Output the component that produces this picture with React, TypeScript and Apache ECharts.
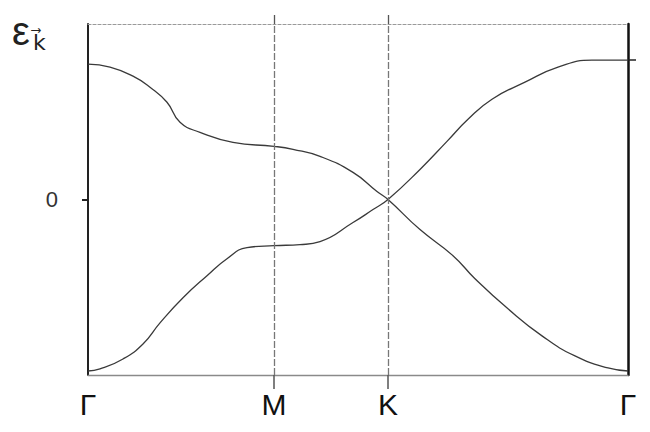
import React, { useEffect, useRef } from "react";
import * as echarts from "echarts";

// High-symmetry points along the k-path (distance units) and their labels
const kPoints = [0, 1.86, 3.0, 5.4];
const kLabels = ["Γ", "M", "K", "Γ"];
const kInner = [1.86, 3.0];

// Energy axis
const energyMin = -1.75;
const energyMax = 1.75;
const energyTicks = [0];
const energyTickLabels = ["0"];
const bandTopMark = [1.39];

// Stroke 1: from upper band at Γ, through M, down through K, to bottom at Γ
const strokeUpperLeft: [number, number][] = [
  [0, 1.35], [0.22, 1.32], [0.45, 1.23], [0.62, 1.12], [0.79, 0.97],
  [0.92, 0.77], [1.12, 0.67], [1.45, 0.57], [1.86, 0.53], [2.05, 0.5],
  [2.32, 0.43], [2.65, 0.27], [2.89, 0.08], [3.0, 0.0],
];
const strokeLowerRight: [number, number][] = [
  [3.32, -0.3], [3.65, -0.56], [3.87, -0.79], [4.2, -1.09], [4.54, -1.36],
  [4.87, -1.56], [5.2, -1.68], [5.4, -1.71],
];

// Stroke 2: from bottom at Γ, through M, up through K, to top at Γ
const strokeLowerLeft: [number, number][] = [
  [0, -1.71], [0.12, -1.69], [0.35, -1.59], [0.55, -1.44], [0.72, -1.23],
  [0.95, -0.98], [1.19, -0.76], [1.39, -0.59], [1.59, -0.48], [1.86, -0.46],
  [2.12, -0.45], [2.32, -0.42], [2.65, -0.23], [2.85, -0.1], [3.0, 0.0],
];
const strokeUpperRight: [number, number][] = [
  [3.32, 0.3], [3.59, 0.58], [3.8, 0.8], [4.04, 1.0], [4.37, 1.17],
  [4.7, 1.32], [5.04, 1.39], [5.4, 1.39],
];

const FONT = "'Liberation Sans', 'DejaVu Sans', sans-serif";

export default function App() {
  const ref = useRef<HTMLDivElement>(null);
  useEffect(() => {
    if (!ref.current) return;
    const chart = echarts.init(ref.current, undefined, { renderer: "svg" });
    const lineStyle = { color: "#3a3a3a", width: 1.3 };
    chart.setOption({
      animation: false,
      backgroundColor: "#ffffff",
      grid: { left: 88, right: 22, top: 24, bottom: 57, outerBoundsMode: "none" },
      xAxis: [
        {
          type: "value",
          min: kPoints[0],
          max: kPoints[kPoints.length - 1],
          position: "bottom",
          axisLine: { show: true, onZero: false, lineStyle: { color: "#8a8a8a", width: 1.3 } },
          axisTick: {
            show: true,
            customValues: kInner,
            length: 14,
            lineStyle: { color: "#555", width: 1.5 },
          },
          axisLabel: {
            show: true,
            customValues: kPoints,
            margin: 14,
            formatter: (v: number) => kLabels[kPoints.indexOf(v)] ?? "",
            fontSize: 30,
            color: "#111",
            fontFamily: FONT,
          },
          splitLine: { show: false },
        },
        {
          type: "value",
          min: kPoints[0],
          max: kPoints[kPoints.length - 1],
          position: "top",
          axisLine: { show: true, onZero: false, lineStyle: { color: "#9a9a9a", width: 1.2, type: [3, 2] } },
          axisTick: {
            show: true,
            customValues: kInner,
            length: 9,
            lineStyle: { color: "#555", width: 1.3 },
          },
          axisLabel: { show: false },
          splitLine: { show: false },
        },
      ],
      yAxis: [
        {
          type: "value",
          min: energyMin,
          max: energyMax,
          position: "left",
          axisLine: { show: true, onZero: false, lineStyle: { color: "#222", width: 2 } },
          axisTick: {
            show: true,
            customValues: energyTicks,
            length: 6,
            lineStyle: { color: "#222", width: 2 },
          },
          axisLabel: {
            show: true,
            customValues: energyTicks,
            margin: 30,
            formatter: (v: number) => energyTickLabels[energyTicks.indexOf(v)] ?? "",
            fontSize: 22,
            color: "#333",
            fontFamily: FONT,
          },
          splitLine: { show: false },
        },
        {
          type: "value",
          min: energyMin,
          max: energyMax,
          position: "right",
          axisLine: { show: true, onZero: false, lineStyle: { color: "#111", width: 2.5 } },
          axisTick: {
            show: true,
            customValues: bandTopMark,
            length: 8,
            lineStyle: { color: "#222", width: 1.5 },
          },
          axisLabel: { show: false },
          splitLine: { show: false },
        },
      ],
      graphic: [
        {
          type: "text",
          left: 12,
          top: 11,
          style: { text: "ε", fontSize: 40, fill: "#222", fontFamily: FONT },
        },
        {
          type: "text",
          left: 33,
          top: 31,
          style: { text: "k\u20D7", fontSize: 22, fill: "#222", fontFamily: "'DejaVu Sans', sans-serif" },
        },
      ],
      series: [
        {
          type: "line",
          data: [...strokeUpperLeft, ...strokeLowerRight],
          showSymbol: false,
          smooth: 0.5,
          lineStyle,
          markLine: {
            silent: true,
            symbol: "none",
            label: { show: false },
            lineStyle: { color: "#777", width: 1.3, type: [7, 2] },
            data: kInner.map((x) => ({ xAxis: x })),
          },
        },
        {
          type: "line",
          data: [...strokeLowerLeft, ...strokeUpperRight],
          showSymbol: false,
          smooth: 0.5,
          lineStyle,
        },
      ],
    });
    return () => chart.dispose();
  }, []);
  return (
    <div
      ref={ref}
      style={{ position: "fixed", left: 0, top: 0, width: 650, height: 432 }}
    />
  );
}
